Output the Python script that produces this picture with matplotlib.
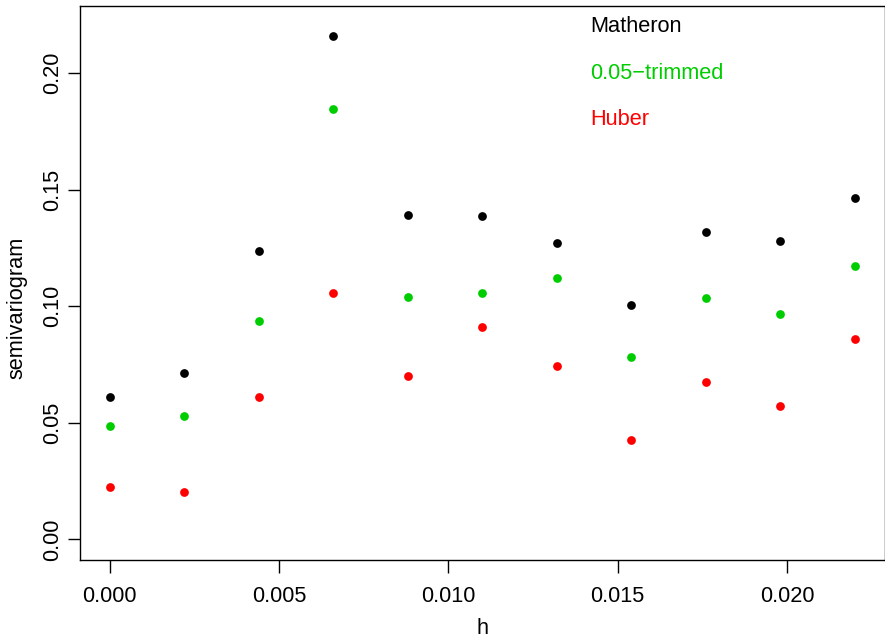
import matplotlib
matplotlib.use("Agg")
import matplotlib.pyplot as plt
import numpy as np

# ─── data ────────────────────────────────────────────────────────────────────
h = [0.0, 0.0022, 0.0044, 0.0066, 0.0088, 0.0110, 0.0132, 0.0154, 0.0176, 0.0198, 0.0220]
matheron = [0.0609, 0.0712, 0.1236, 0.2159, 0.1391, 0.1386, 0.1270, 0.1004, 0.1318, 0.1279, 0.1464]
trimmed  = [0.0485, 0.0528, 0.0936, 0.1845, 0.1039, 0.1056, 0.1120, 0.0781, 0.1034, 0.0966, 0.1172]
huber    = [0.0223, 0.0202, 0.0609, 0.1056, 0.0700, 0.0910, 0.0742, 0.0425, 0.0674, 0.0571, 0.0858]

series_names = ["Matheron", "0.05\u2212trimmed", "Huber"]
series_colors = ["black", "#00CD00", "#FF0000"]

xticks = [0.000, 0.005, 0.010, 0.015, 0.020]
yticks = [0.00, 0.05, 0.10, 0.15, 0.20]

FS = 15.7
plt.rcParams["font.family"] = ["Liberation Sans", "DejaVu Sans"]

fig = plt.figure(figsize=(8.85, 6.44), dpi=100)
ax = fig.add_axes([80 / 885, 84 / 644, 804.5 / 885, 554 / 644])

for vals, col in zip([matheron, trimmed, huber], series_colors):
    ax.plot(h, vals, "o", color=col, markersize=6.3, markeredgewidth=0)

# R-style 4% padding, ylim c(0, 0.22)
xr = (0.0, 0.022)
yr = (0.0, 0.22)
dx = (xr[1] - xr[0]) * 0.04
dy = (yr[1] - yr[0]) * 0.04
ax.set_xlim(xr[0] - dx, xr[1] + dx)
ax.set_ylim(yr[0] - dy, yr[1] + dy)

ax.set_xticks(xticks)
ax.set_xticklabels([f"{v:.3f}" for v in xticks])
ax.set_yticks(yticks)
ax.set_yticklabels([f"{v:.2f}" for v in yticks], rotation=90, va="center")
ax.tick_params(direction="out", length=9, width=1, labelsize=FS)
ax.tick_params(axis="x", pad=10)
ax.tick_params(axis="y", pad=3)
for sp in ax.spines.values():
    sp.set_linewidth(1)

ax.set_xlabel("h", fontsize=FS, labelpad=8)
# y label placed explicitly (centred a bit below the panel middle, as in the reference)
fig.text(17 / 885, 1 - 308 / 644, "semivariogram", fontsize=FS,
         rotation=90, ha="center", va="center")

for yv, name, col in zip([0.22, 0.20, 0.18], series_names, series_colors):
    ax.text(0.0142, yv, name, color=col, fontsize=FS, ha="left", va="center")

fig.savefig("out.png", dpi=100)
